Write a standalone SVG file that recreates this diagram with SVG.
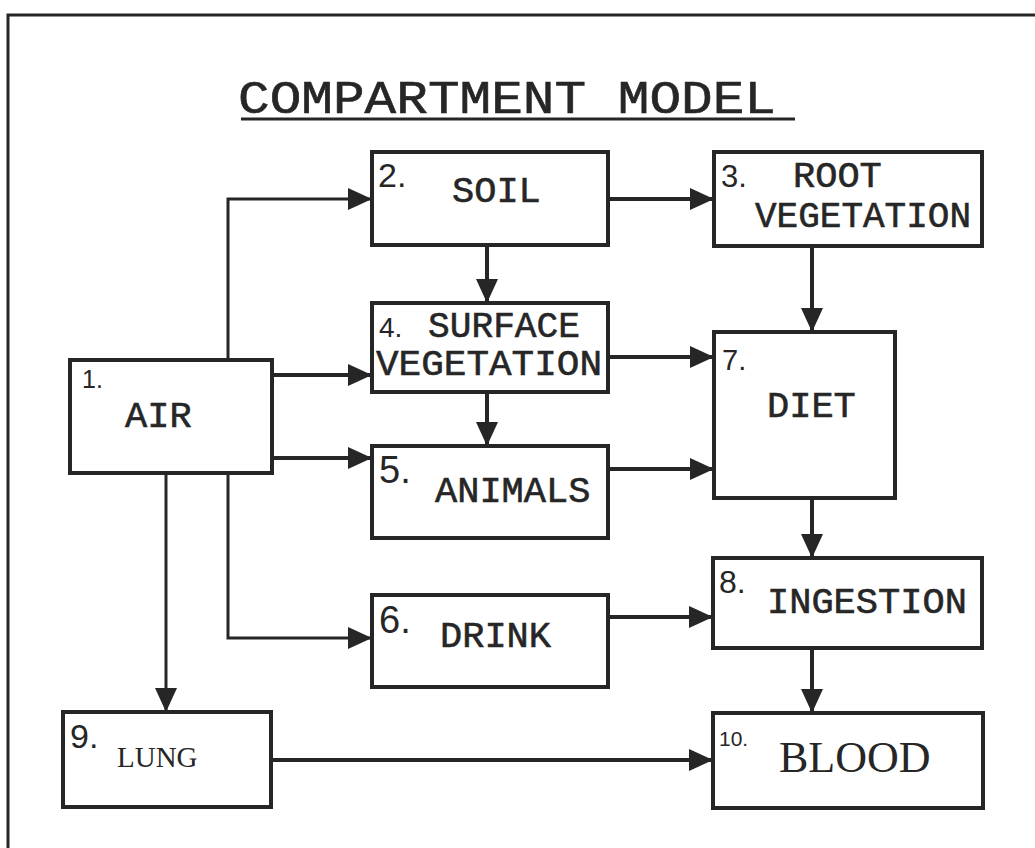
<svg xmlns="http://www.w3.org/2000/svg" width="1035" height="848" viewBox="0 0 1035 848">
<defs>
<style>
.box{fill:#fff;stroke:#262626;stroke-width:4}
.ln{fill:none;stroke:#262626;stroke-width:4;marker-end:url(#ah)}
.thin{stroke-width:3}
.num{font-family:"Liberation Sans",Arial,sans-serif;fill:#262626}
.lbl{font-family:"Liberation Mono","Courier New",monospace;font-size:37px;fill:#262626;stroke:#262626;stroke-width:0.6}
.ser{font-family:"Liberation Serif","Times New Roman",serif;fill:#262626}
</style>
<marker id="ah" markerUnits="userSpaceOnUse" viewBox="0 0 24 22" markerWidth="24" markerHeight="22" refX="24" refY="11" orient="auto">
<path d="M0,0 L24,11 L0,22 Z" fill="#262626"/>
</marker>
</defs>
<rect width="1035" height="848" fill="#fff"/>
<g id="frame" stroke="#262626" stroke-width="3" fill="none">
<path d="M8,848 L8,15 L1035,15"/>
</g>
<g id="title">
<text x="238" y="113" font-family="Liberation Mono,'Courier New',monospace" font-size="46" fill="#262626" stroke="#262626" stroke-width="0.6" textLength="538" lengthAdjust="spacingAndGlyphs">COMPARTMENT MODEL</text>
<line x1="241" y1="119" x2="795" y2="119" stroke="#262626" stroke-width="3"/>
</g>
<g id="connectors">
<path class="ln thin" d="M228,360 L228,199 L372,199"/>
<path class="ln" d="M272,375 L372,375"/>
<path class="ln" d="M272,458 L372,458"/>
<path class="ln thin" d="M228,473 L228,638 L372,638"/>
<path class="ln thin" d="M166,473 L166,712"/>
<path class="ln" d="M608,199 L714,199"/>
<path class="ln" d="M487,245 L487,303"/>
<path class="ln" d="M812,246 L812,332"/>
<path class="ln" d="M608,357 L714,357"/>
<path class="ln" d="M487,392 L487,446"/>
<path class="ln" d="M608,469 L714,469"/>
<path class="ln" d="M812,498 L812,558"/>
<path class="ln" d="M608,617 L713,617"/>
<path class="ln" d="M812,648 L812,713"/>
<path class="ln" d="M271,760 L713,760"/>
</g>
<g id="n1">
<rect class="box" x="70" y="360" width="202" height="113"/>
<text class="num" x="82" y="388" font-size="25">1.</text>
<text class="lbl" x="125" y="427" font-size="52">AIR</text>
</g>
<g id="n2">
<rect class="box" x="372" y="152" width="236" height="93"/>
<text class="num" x="378" y="187" font-size="34">2.</text>
<text class="lbl" x="452" y="202">SOIL</text>
</g>
<g id="n3">
<rect class="box" x="714" y="152" width="268" height="94"/>
<text class="num" x="721" y="187" font-size="31">3.</text>
<text class="lbl" x="793" y="187">ROOT</text>
<text class="lbl" x="755" y="227" textLength="216" lengthAdjust="spacingAndGlyphs">VEGETATION</text>
</g>
<g id="n4">
<rect class="box" x="372" y="303" width="236" height="89"/>
<text class="num" x="379" y="337" font-size="28">4.</text>
<text class="lbl" x="428" y="337" font-size="33" textLength="152" lengthAdjust="spacingAndGlyphs">SURFACE</text>
<text class="lbl" x="376" y="375" font-size="33" textLength="226" lengthAdjust="spacingAndGlyphs">VEGETATION</text>
</g>
<g id="n5">
<rect class="box" x="372" y="446" width="236" height="92"/>
<text class="num" x="379" y="483" font-size="38">5.</text>
<text class="lbl" x="435" y="502">ANIMALS</text>
</g>
<g id="n6">
<rect class="box" x="372" y="595" width="236" height="92"/>
<text class="num" x="379" y="633" font-size="38">6.</text>
<text class="lbl" x="440" y="647">DRINK</text>
</g>
<g id="n7">
<rect class="box" x="714" y="332" width="181" height="166"/>
<text class="num" x="722" y="370" font-size="29">7.</text>
<text class="lbl" x="767" y="417">DIET</text>
</g>
<g id="n8">
<rect class="box" x="713" y="558" width="269" height="90"/>
<text class="num" x="719" y="593" font-size="32">8.</text>
<text class="lbl" x="767" y="613">INGESTION</text>
</g>
<g id="n9">
<rect class="box" x="63" y="712" width="208" height="95"/>
<text class="num" x="70" y="748" font-size="34">9.</text>
<text class="ser" x="117" y="767" font-size="29">LUNG</text>
</g>
<g id="n10">
<rect class="box" x="713" y="713" width="270" height="95"/>
<text class="num" x="719" y="746" font-size="21">10.</text>
<text class="ser" x="779" y="772" font-size="44">BLOOD</text>
</g>
</svg>
